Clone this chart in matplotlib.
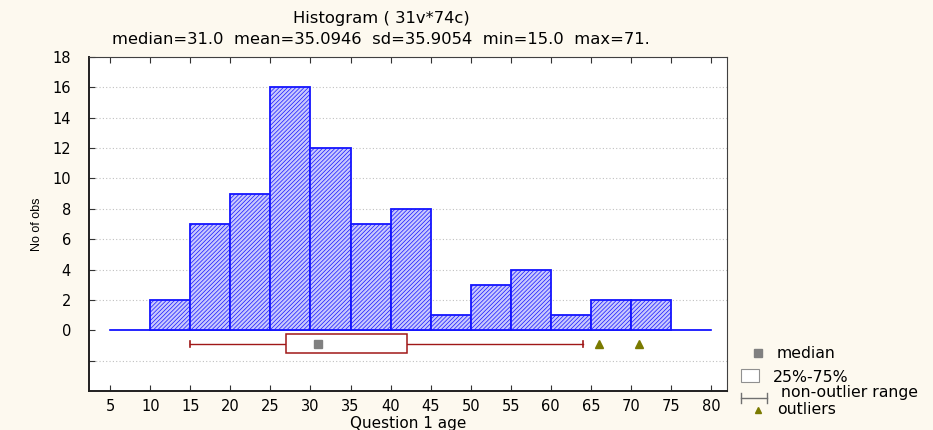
import matplotlib
matplotlib.use("Agg")
import matplotlib.pyplot as plt
import numpy as np

plt.rcParams['font.family'] = ['DejaVu Sans']
plt.rcParams['hatch.color'] = '#b8b8f6'
plt.rcParams['hatch.linewidth'] = 0.5

# Data
bin_edges = [10, 15, 20, 25, 30, 35, 40, 45, 50, 55, 60, 65, 70, 75]
counts = [2, 7, 9, 16, 12, 7, 8, 1, 3, 4, 1, 2, 2]
x_ticks = [5, 10, 15, 20, 25, 30, 35, 40, 45, 50, 55, 60, 65, 70, 75, 80]
y_ticks = [0, 2, 4, 6, 8, 10, 12, 14, 16, 18]
box_q1, box_q3 = 27, 42
whisker_lo, whisker_hi = 15, 64
median_val = 31
outliers = [66, 71]
title = "Histogram ( 31v*74c)"
subtitle = "median=31.0  mean=35.0946  sd=35.9054  min=15.0  max=71."
legend_labels = ['median', '25%-75%', 'non-outlier range', 'outliers']

FS_T = 11.8
FS_TICK = 10.5
FS_L = 11.3

fig = plt.figure(figsize=(9.33, 4.3), dpi=100, facecolor='#fdf9ef')
ax = fig.add_axes([89/933, 1 - 391/430, (727 - 89)/933, (391 - 57)/430])
ax.set_facecolor('white')

ax.set_xlim(2.35, 82.0)
ax.set_ylim(-4, 18)

# grid
for yv in y_ticks[1:] + [-2]:
    ax.axhline(yv, color='#c0c0c0', lw=0.8, ls=(0, (1, 2)), zorder=0)

# baseline
ax.plot([x_ticks[0], x_ticks[-1]], [0, 0], color='#0000ff', lw=1.2, zorder=2)

# bars
widths = np.diff(bin_edges)
ax.bar(bin_edges[:-1], counts, width=widths, align='edge', facecolor='#c8c8fd',
       edgecolor='#1414ff', linewidth=1.3, hatch='////////', zorder=3)

# box plot
by = -0.9
bh = 1.25
rc = '#a01818'
ax.plot([whisker_lo, box_q1], [by, by], color=rc, lw=1.0, zorder=3)
ax.plot([box_q3, whisker_hi], [by, by], color=rc, lw=1.0, zorder=3)
ax.plot([whisker_lo, whisker_lo], [by - 0.18, by + 0.18], color=rc, lw=1.2)
ax.plot([whisker_hi, whisker_hi], [by - 0.18, by + 0.18], color=rc, lw=1.2)
ax.add_patch(plt.Rectangle((box_q1, by - bh/2), box_q3 - box_q1, bh, facecolor='white',
                           edgecolor=rc, lw=1.1, zorder=4))
ax.plot([median_val], [by], marker='s', color='#808080', ms=6, ls='none', zorder=5)
ax.plot(outliers, [by] * len(outliers), marker='^', color='#7a7a00', ms=6, ls='none', zorder=5)

ax.set_xticks(x_ticks)
ax.set_xticklabels([str(v) for v in x_ticks], fontsize=FS_TICK)
ax.set_yticks(y_ticks + [-2])
ax.set_yticklabels([str(v) for v in y_ticks] + [''], fontsize=FS_TICK)
ax.tick_params(axis='both', direction='in', length=4, width=0.8, top=True, right=False,
               color='#333333')
ax.tick_params(axis='x', pad=6)
ax.tick_params(axis='y', pad=13)
for s in ['left', 'bottom']:
    ax.spines[s].set_linewidth(1.4)
    ax.spines[s].set_color('#202020')
for s in ['top', 'right']:
    ax.spines[s].set_linewidth(0.8)
    ax.spines[s].set_color('#404040')

ax.set_ylabel('No of obs', fontsize=9, family='Liberation Sans', labelpad=7)
ax.set_xlabel('Question 1 age', fontsize=11, labelpad=1)

fig.text(381/933, 1 - 19/430, title, ha='center', va='center', fontsize=FS_T)
fig.text(381/933, 1 - 39/430, subtitle, ha='center', va='center', fontsize=FS_T)

# legend (manual, in figure coords)
lx = 758
fig.lines.append(plt.Line2D([lx/933], [1 - 353/430], marker='s', color='#808080', ms=6,
                            ls='none', transform=fig.transFigure))
fig.text(777/933, 1 - 353/430, legend_labels[0], fontsize=FS_L, va='center')
fig.patches.append(plt.Rectangle((741/933, 1 - 382/430), 18/933, 13/430,
                                 facecolor='white', edgecolor='#909090', lw=0.8,
                                 transform=fig.transFigure))
fig.text(773/933, 1 - 377/430, legend_labels[1], fontsize=FS_L, va='center')
fig.lines.append(plt.Line2D([741/933, 767/933], [1 - 398/430, 1 - 398/430],
                            color='#707070', lw=1.0, transform=fig.transFigure))
for xx in [741, 767]:
    fig.lines.append(plt.Line2D([xx/933, xx/933], [1 - 393/430, 1 - 403/430],
                                color='#707070', lw=1.0, transform=fig.transFigure))
fig.text(781/933, 1 - 393/430, legend_labels[2], fontsize=FS_L, va='center')
fig.lines.append(plt.Line2D([lx/933], [1 - 410/430], marker='^', color='#7a7a00', ms=5,
                            ls='none', transform=fig.transFigure))
fig.text(777/933, 1 - 410/430, legend_labels[3], fontsize=FS_L, va='center')

fig.savefig('out.png', dpi=100, facecolor=fig.get_facecolor())
